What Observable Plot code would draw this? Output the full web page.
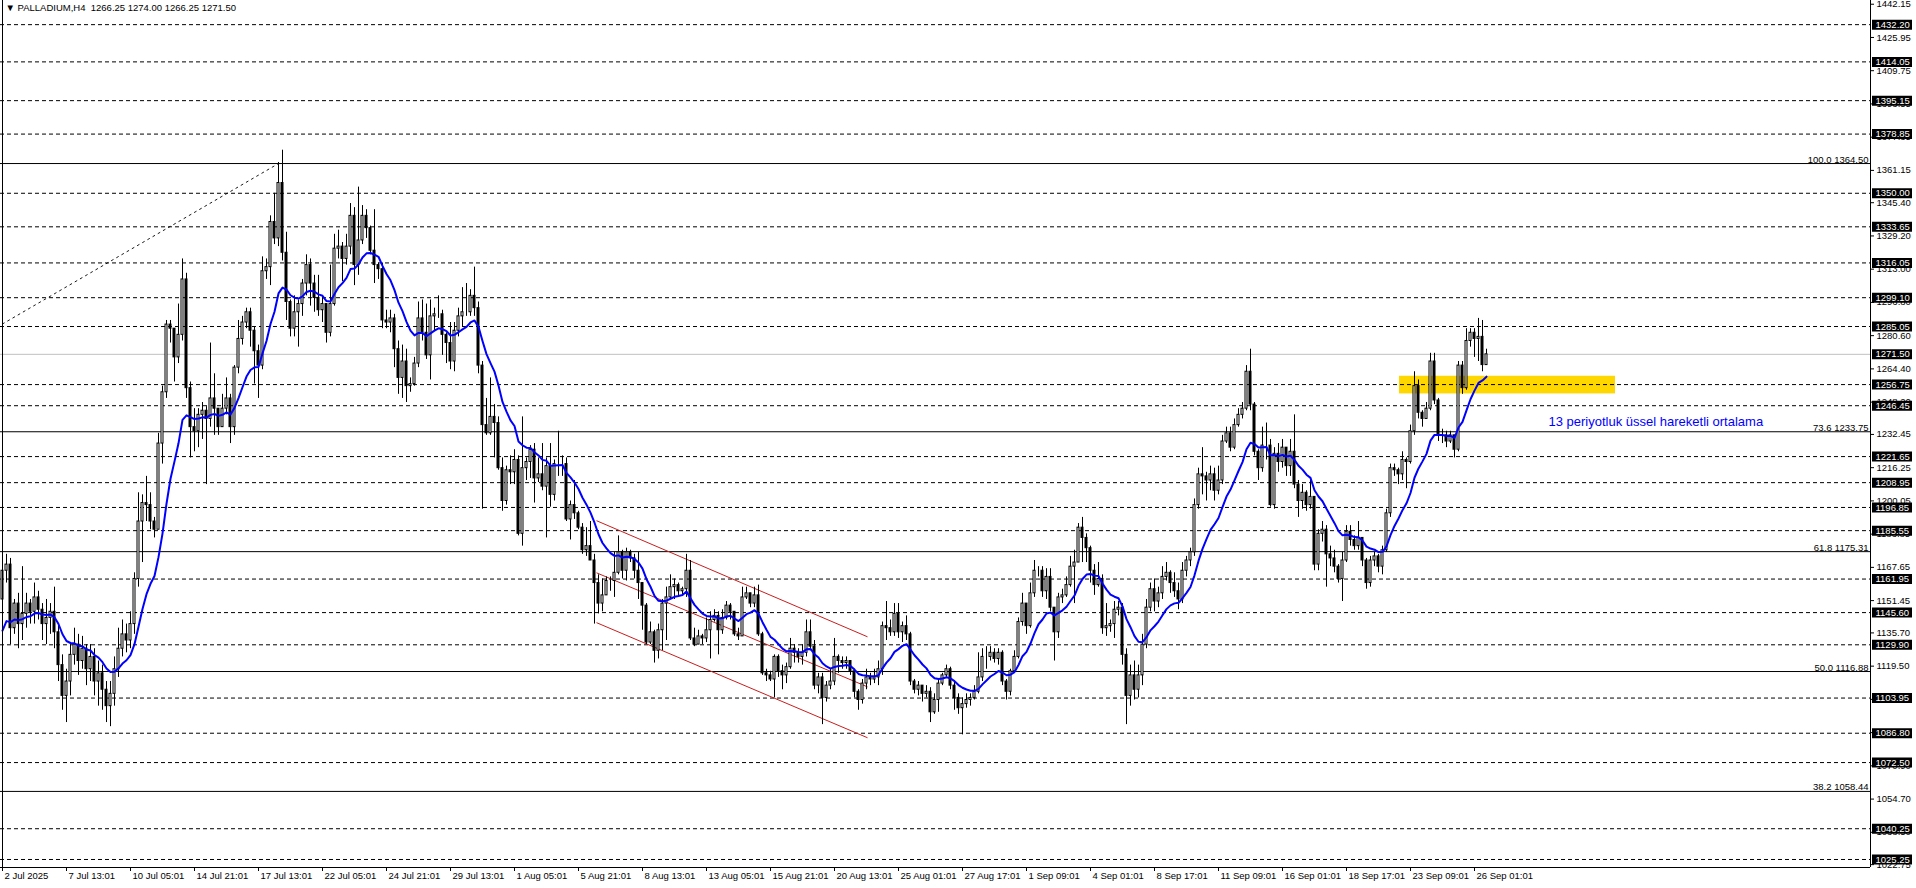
<!DOCTYPE html>
<html><head><meta charset="utf-8">
<script src="https://cdn.jsdelivr.net/npm/d3@7"></script>
<script src="https://cdn.jsdelivr.net/npm/@observablehq/plot@0.6"></script>
<style>
html,body{margin:0;padding:0;background:#fff;overflow:hidden}
#chart{width:1916px;height:888px}
</style></head><body>
<div id="chart"></div>
<script>
// ---- data (PALLADIUM H4, 2 Jul – 26 Sep 2025) ----
const firstOpen = 1152;
const closes = [1166,1169,1138,1150,1140,1145,1150,1146,1153,1147,1140,1143,1146,1136,1120,1105,1112,1125,1130,1122,
1128,1118,1124,1112,1116,1108,1100,1106,1118,1128,1135,1132,1140,1162,1190,1199,1198,1190,1186,1228,
1253,1286,1284,1270,1281,1308,1255,1236,1234,1242,1244,1240,1250,1245,1236,1245,1250,1236,1265,1279,
1287,1292,1283,1273,1266,1312,1314,1336,1328,1355,1321,1297,1284,1292,1296,1306,1315,1306,1299,1293,
1296,1282,1296,1323,1324,1318,1324,1339,1315,1327,1339,1333,1322,1315,1313,1288,1287,1289,1274,1260,
1268,1256,1257,1267,1289,1282,1271,1290,1291,1291,1281,1277,1268,1283,1290,1292,1292,1300,1294,1266,
1237,1233,1241,1238,1216,1200,1215,1214,1220,1184,1216,1219,1225,1211,1213,1207,1217,1203,1218,1218,
1218,1191,1198,1194,1187,1176,1178,1171,1160,1150,1154,1161,1161,1165,1175,1166,1175,1172,1166,1160,
1149,1131,1136,1127,1137,1150,1153,1158,1159,1156,1157,1166,1133,1130,1134,1133,1137,1142,1144,1137,
1143,1149,1146,1135,1134,1153,1155,1150,1154,1135,1116,1115,1113,1124,1117,1115,1119,1128,1126,1124,
1126,1136,1129,1110,1114,1104,1110,1112,1124,1122,1121,1122,1117,1107,1103,1111,1114,1113,1114,1118,
1139,1138,1136,1145,1136,1139,1135,1112,1108,1110,1106,1107,1097,1103,1111,1115,1118,1110,1104,1099,
1101,1103,1104,1107,1114,1124,1124,1126,1123,1126,1112,1107,1117,1124,1141,1150,1139,1155,1166,1166,
1156,1163,1148,1136,1153,1154,1159,1168,1170,1187,1182,1177,1166,1159,1162,1138,1139,1140,1147,1148,
1125,1105,1115,1108,1115,1130,1148,1157,1151,1155,1163,1165,1160,1156,1152,1166,1171,1175,1198,1213,
1212,1210,1213,1205,1210,1229,1233,1226,1237,1242,1245,1263,1247,1224,1216,1227,1227,1198,1223,1219,
1226,1217,1224,1208,1200,1204,1198,1202,1169,1184,1186,1174,1172,1168,1162,1171,1185,1181,1178,1182,
1171,1160,1171,1173,1168,1176,1194,1216,1215,1213,1220,1219,1234,1256,1243,1240,1245,1268,1249,1232,
1232,1229,1232,1225,1266,1255,1278,1282,1279,1280,1266.25,1271.5];
const highs = [1172,1174,1172,1152,1155,1168,1155,1152,1160,1156,1150,1152,1150,1158,1140,1125,1118,1130,1138,1135,
1134,1130,1130,1128,1122,1120,1112,1112,1124,1138,1142,1140,1146,1165,1204,1203,1212,1204,1192,1233,
1256,1288,1288,1280,1296,1318,1311,1258,1245,1245,1248,1246,1277,1262,1244,1252,1260,1252,1266,1288,
1290,1294,1294,1285,1276,1319,1318,1339,1350,1365,1371,1331,1298,1300,1298,1308,1320,1318,1310,1310,
1300,1295,1315,1330,1332,1326,1330,1345,1343,1353,1344,1342,1334,1342,1316,1316,1293,1293,1291,1278,
1276,1274,1260,1270,1297,1298,1296,1298,1294,1300,1293,1282,1287,1287,1294,1304,1306,1303,1314,1297,
1268,1250,1260,1247,1241,1221,1217,1222,1225,1222,1241,1221,1227,1228,1221,1228,1221,1228,1220,1234,
1222,1221,1200,1210,1195,1189,1187,1190,1174,1164,1162,1163,1163,1175,1183,1176,1177,1176,1174,1175,
1160,1150,1141,1137,1140,1152,1158,1164,1162,1160,1158,1174,1171,1138,1137,1135,1143,1146,1147,1146,
1147,1151,1150,1145,1138,1158,1158,1154,1158,1159,1136,1118,1117,1125,1125,1120,1121,1133,1130,1128,
1130,1142,1142,1132,1116,1116,1112,1118,1133,1125,1124,1124,1122,1118,1108,1113,1118,1116,1118,1122,
1141,1151,1142,1150,1150,1141,1144,1136,1113,1112,1110,1110,1109,1106,1113,1116,1120,1119,1112,1106,
1104,1106,1106,1110,1126,1128,1129,1129,1128,1128,1127,1113,1118,1127,1143,1155,1150,1160,1171,1168,
1168,1167,1167,1147,1155,1157,1163,1173,1176,1189,1192,1184,1178,1169,1170,1164,1150,1142,1151,1151,
1150,1128,1120,1122,1120,1135,1152,1160,1162,1158,1168,1170,1166,1165,1160,1170,1173,1177,1201,1216,
1226,1214,1217,1216,1217,1232,1236,1236,1240,1245,1248,1266,1274,1248,1225,1236,1238,1230,1226,1228,
1230,1226,1230,1242,1210,1208,1205,1210,1202,1186,1190,1188,1178,1176,1169,1175,1188,1188,1183,1190,
1182,1172,1173,1175,1174,1178,1196,1218,1218,1216,1224,1221,1237,1263,1259,1244,1248,1272,1272,1250,
1235,1234,1234,1232,1268,1268,1284,1284,1284,1289,1288,1274];
const lows = [1135,1160,1130,1135,1128,1132,1138,1140,1140,1142,1132,1130,1135,1128,1112,1098,1092,1105,1120,1115,
1118,1110,1112,1105,1100,1098,1092,1090,1100,1114,1124,1126,1128,1135,1158,1170,1190,1186,1182,1186,
1218,1250,1277,1258,1267,1278,1250,1221,1224,1226,1230,1208,1236,1232,1232,1236,1242,1228,1232,1262,
1276,1284,1275,1257,1250,1264,1308,1305,1325,1324,1317,1288,1280,1280,1275,1290,1300,1295,1292,1290,
1287,1277,1280,1295,1318,1307,1315,1320,1305,1310,1325,1328,1320,1306,1308,1284,1284,1282,1265,1252,
1250,1248,1253,1256,1265,1278,1269,1259,1283,1289,1271,1267,1264,1263,1280,1285,1290,1290,1290,1262,
1196,1232,1232,1221,1215,1195,1198,1208,1208,1183,1178,1210,1211,1199,1209,1205,1182,1197,1200,1212,
1212,1190,1181,1191,1186,1174,1173,1171,1140,1145,1146,1155,1156,1153,1164,1162,1161,1170,1162,1152,
1137,1130,1130,1121,1123,1127,1132,1152,1152,1153,1154,1153,1132,1129,1130,1130,1131,1123,1141,1125,
1135,1142,1142,1134,1132,1134,1152,1148,1148,1134,1115,1112,1112,1104,1114,1108,1111,1118,1121,1121,
1120,1124,1127,1108,1106,1091,1102,1108,1110,1116,1118,1118,1115,1104,1098,1101,1108,1110,1111,1110,
1115,1132,1134,1134,1133,1131,1132,1110,1106,1105,1102,1104,1092,1096,1097,1110,1114,1108,1098,1096,
1086,1099,1100,1103,1106,1112,1118,1122,1121,1120,1110,1103,1105,1116,1123,1139,1135,1138,1153,1163,
1153,1152,1146,1122,1133,1150,1153,1158,1150,1170,1170,1170,1160,1154,1158,1135,1134,1136,1133,1144,
1120,1091,1100,1103,1104,1110,1128,1146,1146,1148,1152,1161,1155,1153,1147,1150,1163,1168,1173,1196,
1203,1200,1205,1200,1203,1208,1228,1224,1225,1236,1240,1244,1244,1222,1210,1214,1220,1197,1196,1214,
1216,1212,1212,1206,1192,1196,1195,1196,1166,1166,1180,1158,1168,1165,1160,1151,1170,1178,1176,1176,
1168,1157,1158,1168,1165,1164,1175,1192,1212,1208,1210,1206,1218,1232,1240,1236,1240,1244,1247,1229,
1228,1226,1228,1221,1224,1252,1254,1275,1270,1268,1263,1266.25];
const emaSeed = 1132;      // EMA(13) value just before the first visible bar
const emaPeriod = 13;

// horizontal line levels (dashed, with highlighted axis labels)
const hLevels = [1432.20,1414.05,1395.15,1378.85,1350.00,1333.65,1316.05,1299.10,1285.05,1256.75,1246.45,
1221.65,1208.95,1196.85,1185.55,1161.95,1145.60,1129.90,1103.95,1086.80,1072.50,1040.25,1025.25];
const lastPrice = 1271.50;
// Fibonacci levels
const fibLevels = ["100.0","73.6","61.8","50.0","38.2"];
const fibPrices = [1364.50,1233.75,1175.31,1116.88,1058.44];
// fib trend line (bar index, price)
const fibLineBars = [0, 69];
const fibLinePrices = [1286.3, 1364.5];
// red descending channel (start bar, end bar, start price, end price)
const chanBars = [148.5, 216.25];
const chanStart = [1190.4, 1165.0, 1140.7];
const chanEnd = [1133.8, 1109.4, 1084.6];
// yellow zone
const zoneBars = [349.25, 403.25];
const zonePrices = [1252.2, 1260.8];
// annotation
const noteText = "13 periyotluk üssel hareketli ortalama";
const noteBar = 386.5, notePrice = 1238.7;
// right axis tick labels
const yTicks = [1442.15,1425.95,1409.75,1393.55,1377.35,1361.15,1345.40,1329.20,1313.00,1296.80,1280.60,1264.40,
1248.20,1232.45,1216.25,1200.05,1183.85,1167.65,1151.45,1135.70,1119.50,1103.30,1087.10,1070.90,1054.70,1038.50,1022.75];
// bottom axis labels (every 16 bars)
const xLabels = ["2 Jul 2025","7 Jul 13:01","10 Jul 05:01","14 Jul 21:01","17 Jul 13:01","22 Jul 05:01","24 Jul 21:01",
"29 Jul 13:01","1 Aug 05:01","5 Aug 21:01","8 Aug 13:01","13 Aug 05:01","15 Aug 21:01","20 Aug 13:01","25 Aug 01:01",
"27 Aug 17:01","1 Sep 09:01","4 Sep 01:01","8 Sep 17:01","11 Sep 09:01","16 Sep 01:01","18 Sep 17:01","23 Sep 09:01","26 Sep 01:01"];
const xLabelStep = 16;
const titleText = "▼ PALLADIUM,H4  1266.25 1274.00 1266.25 1271.50";

// ---- build ----
const bars = closes.map((c, i) => {
  const o = i === 0 ? firstOpen : closes[i - 1];
  return {i, open: o, close: c, high: Math.max(highs[i], o, c), low: Math.min(lows[i], o, c)};
});
const k = 2 / (emaPeriod + 1);
let e = emaSeed;
const ema = closes.map((c, i) => { e = e + k * (c - e); return {i, v: e}; });
const fibs = fibLevels.map((l, j) => ({level: l, price: fibPrices[j]}));
const fibLine = fibLineBars.map((b, j) => ({i: b, p: fibLinePrices[j]}));
const chans = chanStart.map((s, j) => ({x1: chanBars[0], x2: chanBars[1], y1: s, y2: chanEnd[j]}));
const zone = [{x1: zoneBars[0], x2: zoneBars[1], y1: zonePrices[0], y2: zonePrices[1]}];
const xTicks = xLabels.map((t, j) => ({i: j * xLabelStep, t}));
const hiLabels = hLevels.concat([lastPrice]);
// plain tick labels that sit under a highlighted label are drawn first, highlighted ones on top
const xDomain = [-0.5, 467];
const yDomain = [1021.35, 1443.97];
const font = '"Liberation Sans", Arial, sans-serif';

const chart = Plot.plot({
  width: 1916, height: 888,
  marginLeft: 0, marginRight: 46, marginTop: 0, marginBottom: 21,
  x: {domain: xDomain, axis: null},
  y: {domain: yDomain, axis: null},
  style: {fontFamily: font, fontSize: "9.5px", background: "white", overflow: "visible", color: "black"},
  marks: [
    Plot.rect(zone, {x1: "x1", x2: "x2", y1: "y1", y2: "y2", fill: "#FFD700"}),
    Plot.ruleY(hLevels, {stroke: "black", strokeDasharray: "4,3"}),
    Plot.ruleY(fibPrices, {stroke: "black"}),
    Plot.ruleY([lastPrice], {stroke: "#c0c0c0"}),
    Plot.line(fibLine, {x: "i", y: "p", stroke: "black", strokeDasharray: "2,4", strokeWidth: 0.9}),
    Plot.link(chans, {x1: "x1", x2: "x2", y1: "y1", y2: "y2", stroke: "#c81e1e"}),
    Plot.ruleX(bars, {x: "i", y1: "low", y2: "high", stroke: "black"}),
    Plot.rect(bars, {x1: d => d.i - 0.25, x2: d => d.i + 0.25, y1: "open", y2: "close",
      fill: d => d.close >= d.open ? "white" : "black", stroke: "black"}),
    Plot.line(ema, {x: "i", y: "v", stroke: "#0000ff", strokeWidth: 2}),
    Plot.text([noteText], {x: noteBar, y: notePrice, text: d => d, fill: "#0000ff", fontSize: 13, textAnchor: "start"}),
    Plot.text(fibs, {y: "price", frameAnchor: "right", text: d => `${d.level} ${d.price.toFixed(2)}`,
      textAnchor: "end", lineAnchor: "bottom", dx: -2, dy: -1}),
    // frame
    Plot.ruleX([xDomain[0]], {stroke: "black", dx: 2}),
    Plot.ruleX([xDomain[1]], {stroke: "black"}),
    Plot.ruleY([yDomain[0]], {stroke: "black"}),
    // right axis
    Plot.ruleY(yTicks, {x1: xDomain[1], x2: xDomain[1], insetLeft: 0, insetRight: -4, stroke: "black"}),
    Plot.text(yTicks, {y: d => d, frameAnchor: "right", textAnchor: "start", dx: 6, text: d => d.toFixed(2)}),
    Plot.ruleY(hiLabels, {x1: xDomain[1], x2: xDomain[1], insetLeft: 2, insetRight: -42, stroke: "black", strokeWidth: 10}),
    Plot.text(hiLabels, {y: d => d, frameAnchor: "right", textAnchor: "start", dx: 5, fill: "white", text: d => d.toFixed(2)}),
    // bottom axis
    Plot.ruleX(xTicks, {x: "i", y1: yDomain[0], y2: yDomain[0], insetTop: 0, insetBottom: -4, stroke: "black"}),
    Plot.text(xTicks, {x: "i", frameAnchor: "bottom", textAnchor: "start", dx: 2, dy: 11, text: "t"}),
    // title
    Plot.text([titleText], {frameAnchor: "top-left", textAnchor: "start", lineAnchor: "top", dx: 5, dy: 4, text: d => d})
  ]
});
document.getElementById("chart").appendChild(chart);
</script>
</body></html>
